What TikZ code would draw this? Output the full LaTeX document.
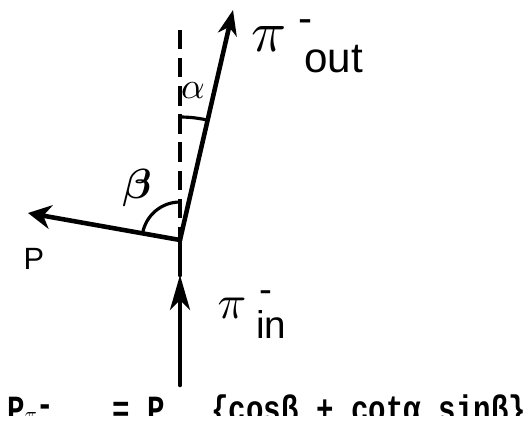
\documentclass[tikz,border=0pt]{standalone}
\usepackage{bm}
\usepackage{graphicx}
\usepackage{fontspec}
\setmainfont{Liberation Sans}
\setmonofont{Liberation Mono}
\usetikzlibrary{arrows.meta,positioning}

\begin{document}
\begin{tikzpicture}[
  x=0.02cm,y=0.02cm,
  vec/.style={line width=2.6pt,line cap=round},
  guide/.style={line width=2pt,dash pattern=on 11pt off 5pt},
  anglearc/.style={line width=1.8pt},
  lbl/.style={inner sep=0pt},
  eqn/.style={inner sep=0pt,anchor=base west,font=\fontsize{21}{24}\selectfont\ttfamily\bfseries},
]
  \useasboundingbox (0,0) rectangle (530,424);
  \coordinate (O) at (180,184);
  \coordinate (outtip) at (233,414);
  \coordinate (Ptip) at (28,211);
  \coordinate (inbot) at (180,39);
  \coordinate (inmid) at (180,149);
  \coordinate (dashtop) at (180,394);

  % vertical reference and the three momenta
  \draw[guide] (dashtop) -- (O);
  \draw[vec,-{Stealth[length=0.5cm,width=0.38cm,inset=0.15cm]}] (O) -- (outtip);
  \draw[vec,-{Stealth[length=0.46cm,width=0.48cm,inset=0.15cm]}] (O) -- (Ptip);
  \draw[vec,-{Stealth[length=0.7cm,width=0.4cm,inset=0.2cm]}] (inbot) -- (inmid);
  \draw[vec] (inmid) -- (O);

  % angles
  \draw[anglearc] (O) ++(90:123) arc[start angle=90,end angle=77,radius=123];
  \draw[anglearc] (O) ++(90:38) arc[start angle=90,end angle=170,radius=38];
  \node[lbl] (alpha) at (193,333) {\scalebox{2.1}{$\alpha$}};
  \node[lbl] (beta) at (137,236) {\scalebox{2.4}{$\bm{\beta}$}};

  % labels
  \node[lbl] (piout) at (269,385) {\scalebox{3.3}{$\pi$}};
  \node[lbl,anchor=base,font=\fontsize{24}{26}\selectfont] (minusout) at (306,392) {-};
  \node[lbl,anchor=base west,font=\fontsize{24}{26}\selectfont] (outtext) at (304,352) {out};
  \node[lbl] (piin) at (232,116) {\scalebox{2.7}{$\pi$}};
  \node[lbl,anchor=base,font=\fontsize{22}{24}\selectfont] (minusin) at (266,122) {-};
  \node[lbl,anchor=base west,font=\fontsize{22}{24}\selectfont] (intext) at (256,86) {in};
  \node[lbl,font=\fontsize{17.5}{20}\selectfont] (P) at (34,165) {P};

  % formula, cut off at the lower edge
  \begin{scope}
    \clip (0,9) rectangle (530,424);
    \node[eqn] (lhs) at (7,3) {\scalebox{0.79}[1]{P\raisebox{-1.5pt}{\scalebox{0.7}{$\pi$}}\raisebox{2.5pt}{-}}};
    \node[eqn] (eqsign) at (112,3) {\scalebox{0.79}[1]{=}};
    \node[eqn] (P2) at (147,3) {\scalebox{0.79}[1]{P}};
    \node[eqn] (rhs) at (211,3) {\scalebox{0.79}[1]{\{cosβ + cotα sinβ\}}};
  \end{scope}
\end{tikzpicture}
\end{document}
